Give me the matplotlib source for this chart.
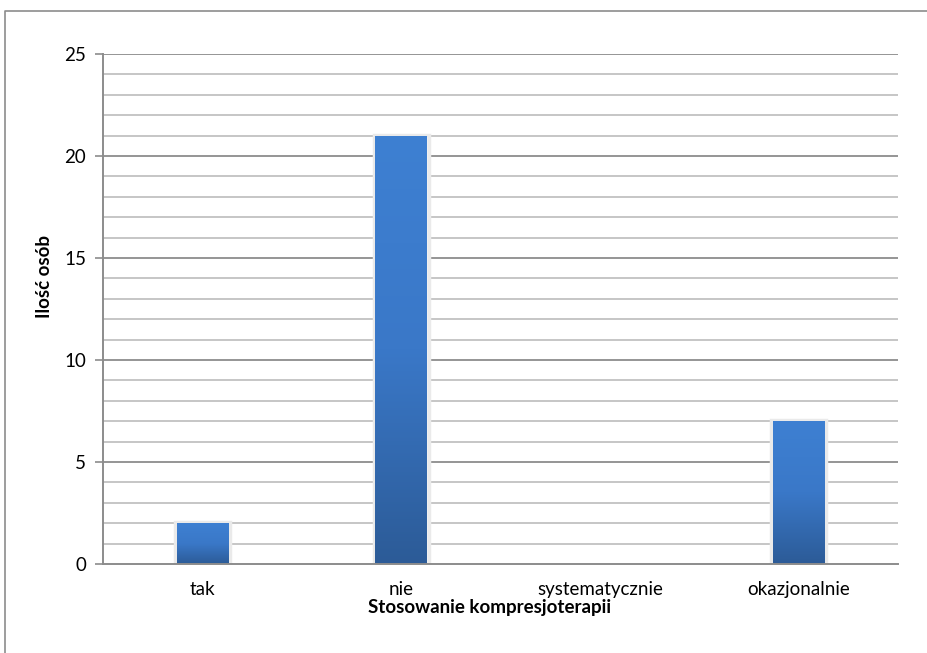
import matplotlib
matplotlib.use("Agg")
import matplotlib.pyplot as plt
import numpy as np
from matplotlib.patches import Rectangle
from matplotlib.lines import Line2D
from matplotlib.colors import LinearSegmentedColormap

categories = ["tak", "nie", "systematycznie", "okazjonalnie"]
counts = [2, 21, 0, 7]
y_ticks = [0, 5, 10, 15, 20, 25]
x_label = "Stosowanie kompresjoterapii"
y_label = "Ilość osób"

plt.rcParams["font.family"] = ["Lato", "DejaVu Sans"]

fig = plt.figure(figsize=(9.28, 6.53), dpi=100)
ax = fig.add_axes([103 / 928, 1 - 564 / 653, 795 / 928, 510 / 653])

# outer chart frame: only its left and top edges fall inside the canvas
fx, fy = 5.5 / 928, 1 - 10.5 / 653
fig.add_artist(Line2D([fx, fx, 1.0], [0.0, fy, fy], transform=fig.transFigure,
                      color="#8c8c8c", lw=1.2, zorder=0))

x = np.arange(len(categories))
ax.set_xlim(-0.5, len(categories) - 0.5)
ax.set_ylim(0, 25)

# gridlines: minor every 1, major every 5
for v in range(1, 26):
    if v % 5 == 0:
        ax.axhline(v, color="#8c8c8c", lw=1.3, zorder=1)
    else:
        ax.axhline(v, color="#c6c6c6", lw=1.4, zorder=1)

cmap = LinearSegmentedColormap.from_list("barblue", ["#2c5b97", "#3a78c8", "#3e80d2"])
grad = np.linspace(0, 1, 256).reshape(-1, 1)

bars = ax.bar(x, counts, width=0.26, color="none", edgecolor="none", zorder=3)
for b in bars:
    h = b.get_height()
    if h <= 0:
        continue
    x0, w = b.get_x(), b.get_width()
    # soft halo around the bar
    ax.add_patch(Rectangle((x0 - 0.008, 0), w + 0.016, h + 0.04, facecolor="#f2f2f2",
                           edgecolor="#eaeaea", lw=2.5, zorder=2))
    im = ax.imshow(grad, cmap=cmap, aspect="auto", origin="lower",
                   extent=(x0, x0 + w, 0, h), zorder=3)
    im.set_clip_path(b)

ax.set_xticks(x)
ax.set_xticklabels(categories, fontsize=13.5)
ax.set_yticks(y_ticks)
ax.set_yticklabels([str(t) for t in y_ticks], fontsize=13.5)
ax.tick_params(axis="x", length=0, pad=12)
ax.tick_params(axis="y", length=6, width=1.2, color="#8c8c8c", pad=6, direction="out")

for side in ("top", "right"):
    ax.spines[side].set_visible(False)
for side in ("left", "bottom"):
    ax.spines[side].set_color("#8c8c8c")
    ax.spines[side].set_linewidth(1.4)
    ax.spines[side].set_zorder(4)

ax.set_xlabel(x_label, fontsize=13.5, fontweight="bold", va="center")
ax.xaxis.set_label_coords((490 - 103) / 795, (564 - 608) / 510)
ax.set_ylabel(y_label, fontsize=13.5, fontweight="bold", va="center")
ax.yaxis.set_label_coords((45 - 103) / 795, (564 - 276) / 510)

fig.savefig("out.png", dpi=100, facecolor="white")
